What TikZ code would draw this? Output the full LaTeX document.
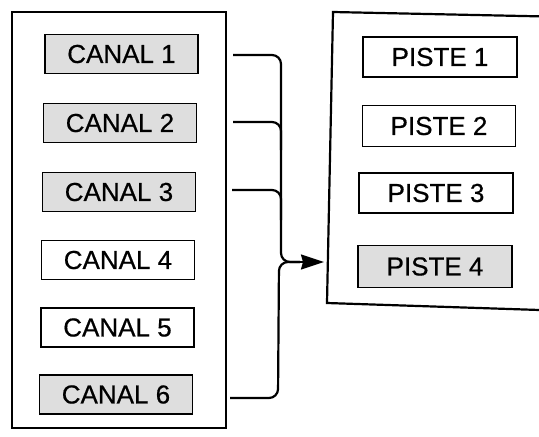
\documentclass[tikz,border=0pt]{standalone}
\usepackage{fontspec}
\setmainfont{Liberation Sans}[FakeBold=0.6]
\usetikzlibrary{arrows.meta}
\begin{document}
\begin{tikzpicture}[x=1pt,y=-1pt,
  panel/.style={draw=black,line width=2.2pt},
  lbl/.style={draw=black,line width=1.6pt,minimum width=153pt,minimum height=39pt,inner sep=0pt,font=\fontsize{26}{30}\selectfont},
  shaded/.style={lbl,fill=black!13},
  plain/.style={lbl,fill=white},
  conn/.style={draw=black,line width=2.2pt,rounded corners=9pt}]
\useasboundingbox (0,0) rectangle (539,437);
\begin{scope}
\clip (0,0) rectangle (539,437);
% panels
\draw[panel] (12,12) rectangle (226,428);
\draw[panel] (570,17) -- (333,12) -- (327,303) -- (570,311);
% canal boxes
\node[shaded] (c1) at (121.5,54) {CANAL 1};
\node[shaded] (c2) at (120,123) {CANAL 2};
\node[shaded] (c3) at (119,192) {CANAL 3};
\node[plain]  (c4) at (118,260) {CANAL 4};
\node[plain]  (c5) at (117.5,327.5) {CANAL 5};
\node[shaded] (c6) at (116,394.5) {CANAL 6};
% piste boxes
\node[plain,minimum width=154pt,minimum height=40pt]  (p1) at (440,57) {PISTE 1};
\node[plain,minimum width=153pt,minimum height=41pt]  (p2) at (439,126) {PISTE 2};
\node[plain,minimum width=154pt,minimum height=40pt]  (p3) at (436,193) {PISTE 3};
\node[shaded,minimum width=154pt,minimum height=42pt] (p4) at (435,266.5) {PISTE 4};
% connector points
\coordinate (s1) at (233,55);
\coordinate (s2) at (233,122);
\coordinate (s3) at (232,190);
\coordinate (s6) at (230,398);
\coordinate (j) at (300,262);
\coordinate (t) at (324,262);
% connectors
\draw[conn] (s1) -- (281,55) -- (281,262) -- (j);
\draw[conn] (s2) -- (281,122) -- (281,150);
\draw[conn] (s3) -- (281,190) -- (281,220);
\draw[conn] (s6) -- (278,398) -- (279,262) -- (j);
\draw[line width=2.2pt,-{Stealth[length=23pt,width=15pt,inset=2pt]}] (j) -- (t);
\end{scope}
\end{tikzpicture}
\end{document}
